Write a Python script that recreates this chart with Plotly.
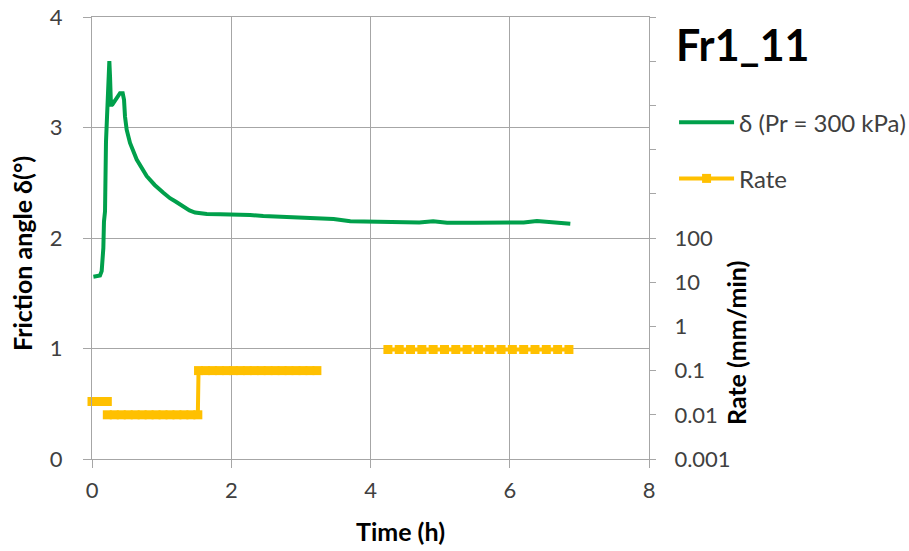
import plotly.graph_objects as go

# Friction angle record (time in hours, angle in degrees)
time_h = [0.02, 0.115, 0.139, 0.163, 0.172, 0.187, 0.201, 0.220, 0.235, 0.249,
          0.259, 0.273, 0.282, 0.307, 0.355, 0.402, 0.441, 0.460, 0.474, 0.498,
          0.546, 0.642, 0.785, 0.90, 1.025, 1.12, 1.20, 1.312, 1.40, 1.48, 1.65, 1.84,
          2.05, 2.27, 2.46, 2.60, 2.75, 2.95, 3.13, 3.30, 3.47, 3.71, 3.95,
          4.20, 4.47, 4.70, 4.90, 5.10, 5.50, 5.91, 6.20, 6.39, 6.63, 6.87]
delta_deg = [1.65, 1.66, 1.70, 1.91, 2.15, 2.24, 2.87, 3.25, 3.55, 3.60,
             3.46, 3.19, 3.24, 3.22, 3.27, 3.31, 3.31, 3.25, 3.10, 2.98,
             2.86, 2.71, 2.56, 2.48, 2.41, 2.36, 2.33, 2.28, 2.25, 2.23, 2.218, 2.214,
             2.212, 2.208, 2.199, 2.196, 2.187, 2.182, 2.178, 2.176, 2.172, 2.151, 2.150,
             2.148, 2.142, 2.141, 2.151, 2.139, 2.139, 2.139, 2.141, 2.154, 2.139, 2.130]

# Shear rate steps (mm/min); None separates the stages
rate_time_h = [0.0, 0.075, 0.15, 0.22, None,
               0.22, 0.32, 0.42, 0.52, 0.62, 0.72, 0.82, 0.92, 1.02, 1.12, 1.22, 1.32, 1.42, 1.52,
               1.53, 1.63, 1.73, 1.83, 1.93, 2.03, 2.13, 2.23, 2.33, 2.43, 2.53, 2.63, 2.73,
               2.83, 2.93, 3.03, 3.13, 3.23, None,
               4.25, 4.4125, 4.575, 4.7375, 4.90, 5.0625, 5.225, 5.3875, 5.55, 5.7125,
               5.875, 6.0375, 6.20, 6.3625, 6.525, 6.6875, 6.85]
rate_mm_min = [0.02, 0.02, 0.02, 0.02, None,
               0.01, 0.01, 0.01, 0.01, 0.01, 0.01, 0.01, 0.01, 0.01, 0.01, 0.01, 0.01, 0.01, 0.01,
               0.1, 0.1, 0.1, 0.1, 0.1, 0.1, 0.1, 0.1, 0.1, 0.1, 0.1, 0.1, 0.1,
               0.1, 0.1, 0.1, 0.1, 0.1, None,
               0.3, 0.3, 0.3, 0.3, 0.3, 0.3, 0.3, 0.3, 0.3, 0.3,
               0.3, 0.3, 0.3, 0.3, 0.3, 0.3, 0.3]

x_ticks = [0, 2, 4, 6, 8]
y_ticks = [0, 1, 2, 3, 4]
rate_tick_vals = [1e-3, 1e-2, 1e-1, 1, 10, 100, 1e3, 1e4, 1e5, 1e6, 1e7]
rate_tick_text = ["0.001", "0.01", "0.1", "1", "10", "100", "", "", "", "", ""]

GREEN = "#00A04B"
GOLD = "#FFC000"
GRID = "#A6A6A6"
TICK_COLOR = "#404040"
FONT = "Lato, Arial, sans-serif"

# plot area in pixels
L, R, T, B = 92, 649, 17, 459
W, H = R - L, B - T


def px(x):
    return (x - L) / W


def py(y):
    return (B - y) / H


fig = go.Figure()
fig.add_trace(go.Scatter(
    x=time_h, y=delta_deg, mode="lines", name="δ (Pr = 300 kPa)",
    line=dict(color=GREEN, width=4), legendgroup="a",
))
fig.add_trace(go.Scatter(
    x=rate_time_h, y=rate_mm_min, mode="lines+markers", name="Rate",
    yaxis="y2", line=dict(color=GOLD, width=4),
    marker=dict(symbol="square", size=9, color=GOLD),
    cliponaxis=False, connectgaps=False, legendgroup="b",
))

fig.update_layout(
    width=909, height=551,
    margin=dict(l=L, r=909 - R, t=T, b=551 - B, autoexpand=False),
    paper_bgcolor="white", plot_bgcolor="white",
    font=dict(family=FONT, color=TICK_COLOR, size=22),
    xaxis=dict(
        range=[0, 8], tickvals=x_ticks, showgrid=True, gridcolor=GRID, gridwidth=1,
        showline=True, linecolor=GRID, linewidth=1, mirror=True,
        ticks="outside", ticklen=8, tickcolor=GRID, zeroline=False,
        tickfont=dict(size=22, color=TICK_COLOR), ticklabelstandoff=4,
        automargin=False,
    ),
    yaxis=dict(
        range=[0, 4], tickvals=y_ticks, showgrid=True, gridcolor=GRID, gridwidth=1,
        showline=True, linecolor=GRID, linewidth=1, mirror=True,
        ticks="outside", ticklen=8, tickcolor=GRID, zeroline=False,
        tickfont=dict(size=22, color=TICK_COLOR), ticklabelstandoff=16,
        automargin=False,
    ),
    yaxis2=dict(
        type="log", range=[-3, 7], overlaying="y", side="right",
        tickvals=rate_tick_vals, ticktext=rate_tick_text, showgrid=False,
        showline=False, ticks="outside", ticklen=6, tickcolor=GRID,
        tickfont=dict(size=22, color=TICK_COLOR), ticklabelstandoff=14,
        automargin=False,
    ),
    legend=dict(
        x=1.045, y=0.812, xanchor="left", yanchor="top",
        font=dict(size=24, color=TICK_COLOR), bgcolor="rgba(0,0,0,0)",
        traceorder="grouped", tracegroupgap=22, itemwidth=55,
    ),
    showlegend=True,
)

fig.add_annotation(
    text="<b>Fr1_11</b>", xref="paper", yref="paper",
    x=px(674), y=py(44), xanchor="left", yanchor="middle",
    showarrow=False, font=dict(size=43, color="black", family=FONT),
)
fig.add_annotation(
    text="<b>Friction angle δ(°)</b>", xref="paper", yref="paper",
    x=px(22), y=py(254), textangle=-90,
    xanchor="center", yanchor="middle", showarrow=False,
    font=dict(size=25, color="black", family=FONT),
)
fig.add_annotation(
    text="<b>Time (h)</b>", xref="paper", yref="paper",
    x=px(400), y=py(531),
    xanchor="center", yanchor="middle", showarrow=False,
    font=dict(size=25, color="black", family=FONT),
)
fig.add_annotation(
    text="<b>Rate (mm/min)</b>", xref="paper", yref="paper",
    x=px(736), y=py(343), textangle=-90,
    xanchor="center", yanchor="middle", showarrow=False,
    font=dict(size=25, color="black", family=FONT),
)

fig.write_html("out.html")
